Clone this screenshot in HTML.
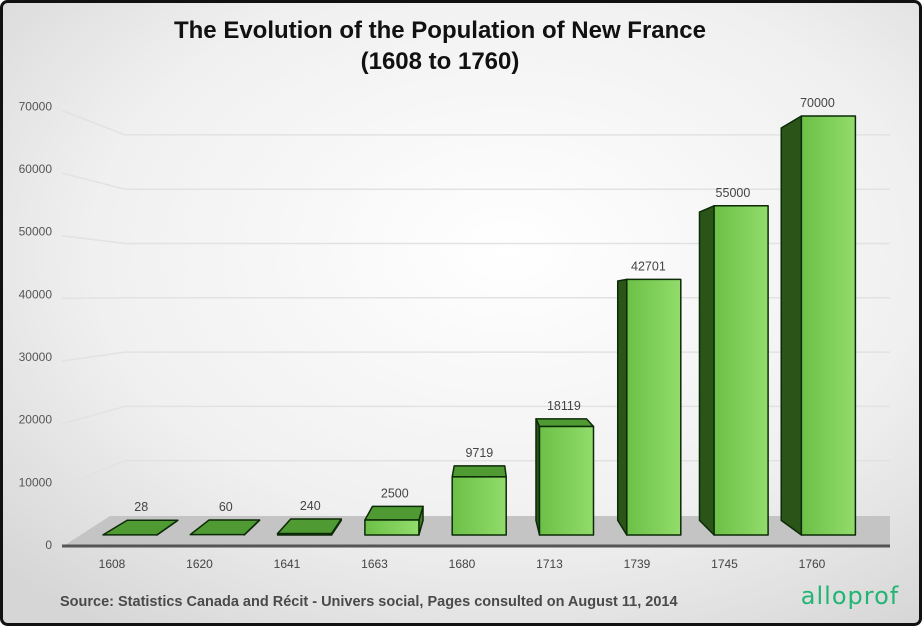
<!DOCTYPE html>
<html><head><meta charset="utf-8"><style>
html,body{margin:0;padding:0;background:#fff}
#wrap{position:relative;width:922px;height:626px;overflow:hidden}
svg{position:absolute;left:0;top:0}
</style></head><body>
<div id="wrap">
<svg id="chart" width="922" height="626" viewBox="0 0 922 626">
<defs>
<radialGradient id="bg" cx="0.55" cy="0.4" r="0.75">
<stop offset="0" stop-color="#ffffff"/><stop offset="0.6" stop-color="#f0f0f0"/><stop offset="1" stop-color="#d6d6d6"/>
</radialGradient>
<linearGradient id="front" x1="0" y1="0" x2="1" y2="0">
<stop offset="0" stop-color="#6cc046"/><stop offset="1" stop-color="#92dc6c"/>
</linearGradient>
</defs>
<rect x="1.5" y="1.5" width="919" height="623" rx="6" fill="url(#bg)" stroke="#111" stroke-width="3"/>
<text x="440" y="38" text-anchor="middle" font-family="Liberation Sans, sans-serif" font-weight="bold" font-size="24" fill="#111">The Evolution of the Population of New France</text>
<text x="440" y="69" text-anchor="middle" font-family="Liberation Sans, sans-serif" font-weight="bold" font-size="24" fill="#111">(1608 to 1760)</text>
<g id="grid"></g>
<polygon points="65,545 110,516 890,516 890,545" fill="#c4c4c4"/>
<line x1="62" y1="546" x2="890" y2="546" stroke="#555" stroke-width="3"/>
<g id="bars"></g>
<g id="xlabels"></g>
<text x="60" y="606" font-family="Liberation Sans, sans-serif" font-weight="bold" font-size="14.5" fill="#4a4a4a">Source: Statistics Canada and Récit - Univers social, Pages consulted on August 11, 2014</text>
<text x="850" y="604" text-anchor="middle" font-family="DejaVu Sans, sans-serif" font-size="24" fill="#22b573" letter-spacing="1">alloprof</text>
</svg>
</div>
<script>
const years = ["1608","1620","1641","1663","1680","1713","1739","1745","1760"];
const population = [28,60,240,2500,9719,18119,42701,55000,70000];
const yTicks = [0,10000,20000,30000,40000,50000,60000,70000];
const yTickLabels = ["0","10000","20000","30000","40000","50000","60000","70000"];

const NS="http://www.w3.org/2000/svg";
function el(tag,attrs,parent){const e=document.createElementNS(NS,tag);for(const k in attrs)e.setAttribute(k,attrs[k]);parent.appendChild(e);return e;}
// axis functions
const frontY=v=>535-v*0.005986;
const tickY=v=>545-v*0.006266;
const backY=v=>515-v*0.00543;
const xCenter=i=>130+i*87.3;
const barW=54;
// perspective
const VX=484, VY=305, K=0.0635;
const bx=x=>x+(VX-x)*K;
const by=y=>y+(VY-y)*K;

const grid=document.getElementById('grid');
yTicks.forEach((t,i)=>{
  const ty=tickY(t), byy=backY(t);
  if(t>0){
    const l=el('polyline',{points:`62,${ty+4} 125,${byy} 890,${byy}`,fill:'none',stroke:'#e2e2e2','stroke-width':1.5},grid);
    
    
  }
  const tx=el('text',{x:52,y:ty+4,'text-anchor':'end','font-family':'Liberation Sans, sans-serif','font-size':12,fill:'#555'},grid);
  tx.textContent=yTickLabels[i];
  
  
});

const bars=document.getElementById('bars');
const xl=document.getElementById('xlabels');
population.forEach((v,i)=>{
  const c=xCenter(i), x0=c-barW/2, x1=c+barW/2;
  const yb=535, yt=frontY(v);
  const g=el('g',{},bars);
  
  
  const st={stroke:'#0d2a08','stroke-width':1.5,'stroke-linejoin':'round'};
  // side faces
  if(x0>VX){
    el('polygon',Object.assign({points:`${x0},${yb} ${bx(x0)},${by(yb)} ${bx(x0)},${by(yt)} ${x0},${yt}`,fill:'#2a5418'},st),g);
  }
  if(x1<VX){
    el('polygon',Object.assign({points:`${x1},${yb} ${bx(x1)},${by(yb)} ${bx(x1)},${by(yt)} ${x1},${yt}`,fill:'#3f7a25'},st),g);
  }
  // top face
  if(yt>VY){
    el('polygon',Object.assign({points:`${x0},${yt} ${x1},${yt} ${bx(x1)},${by(yt)} ${bx(x0)},${by(yt)}`,fill:'#4f9a32'},st),g);
  }
  // front face
  if(yb-yt>1) el('rect',Object.assign({x:x0,y:yt,width:barW,height:yb-yt,fill:'url(#front)'},st),g);
  const topMost=Math.min(yt,by(yt));
  const lab=el('text',{x:(c+bx(c))/2,y:topMost-9,'text-anchor':'middle','font-family':'Liberation Sans, sans-serif','font-size':12.5,fill:'#444'},g);
  lab.textContent=String(v);
  
  
  const t=el('text',{x:c-18+i*0.2,y:568,'text-anchor':'middle','font-family':'Liberation Sans, sans-serif','font-size':12,fill:'#444'},xl);
  t.textContent=years[i];
  
  
});
</script>
</body></html>
